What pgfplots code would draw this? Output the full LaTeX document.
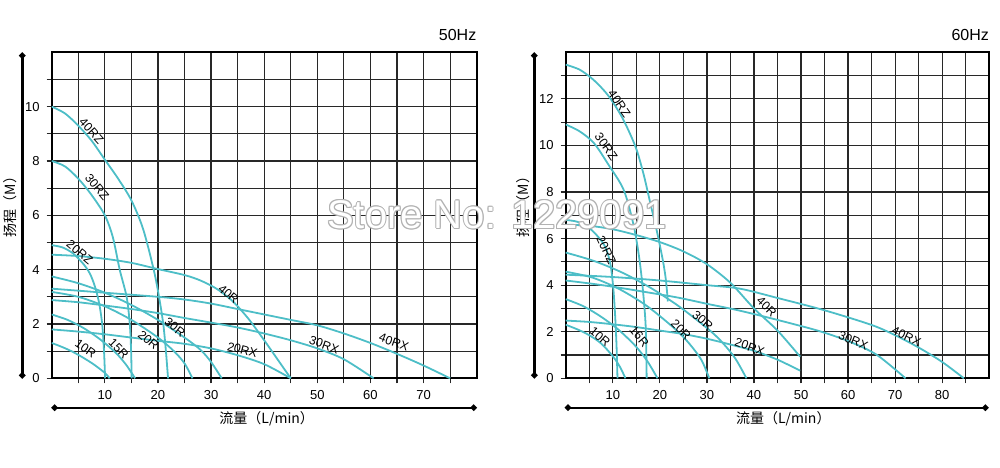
\documentclass[border=0pt]{standalone}
\usepackage{pgfplots}
\pgfplotsset{compat=1.18}
\usepackage{fontspec}
\setmainfont{Liberation Sans}
\newfontfamily\cjk{Noto Sans CJK SC}
\usetikzlibrary{arrows.meta}
\definecolor{pumpline}{RGB}{77,190,199}
\definecolor{gridcol}{RGB}{40,40,40}

\pgfplotsset{pumpchart/.style={
  scale only axis, height=163pt, anchor=south west,
  xmin=0, ymin=0,
  axis line style={line width=1pt, black},
  grid=both,
  major grid style={line width=0.6pt, gridcol},
  minor grid style={line width=0.6pt, gridcol},
  tick style={line width=0.6pt, gridcol},
  tick align=outside, major tick length=2.5pt, minor tick length=2.5pt,
  xtick pos=bottom, ytick pos=left,
  tick label style={font=\fontsize{6.5}{7}\selectfont},
  /pgf/number format/assume math mode=true,
},
pump/.style={draw=pumpline, line width=0.9pt, smooth, tension=0.5, mark=none}}
\newcommand{\clab}[4]{\node[rotate=#3, font=\fontsize{6.1}{6.5}\selectfont, inner sep=0pt] at (axis cs:#1,#2) {#4};}

\begin{document}
\begin{tikzpicture}
\path[use as bounding box] (0,0) rectangle (500pt,233.5pt);

% ---- 50Hz
\begin{axis}[pumpchart, width=212.5pt, at={(25.85pt,44.35pt)},
  xmax=80, ymax=12,
  xtick={10,20,...,70}, minor xtick={5,15,...,75},
  ytick={0,2,...,10}, minor ytick={1,3,...,11}]
  % 40RZ
  \addplot[pump] coordinates {(0,10)(2.5,9.75)(5,9.3)(7.5,8.75)(10,8.05)(12.5,7.35)(15,6.55)(17.2,5.5)(19.2,4)(20.2,3)(21,2)(21.5,1)(21.9,0)};
  % 30RZ
  \addplot[pump] coordinates {(0,8)(2.5,7.8)(5,7.35)(7.5,6.75)(10,6.0)(11.5,5.2)(12.8,4.0)(14.1,3.0)(14.7,2.0)(14.95,1.0)(15.05,0)};
  % 20RZ
  \addplot[pump] coordinates {(0,4.9)(2,4.82)(4,4.6)(6,4.2)(7.2,3.85)(8.1,3.4)(8.9,2.8)(9.5,2.0)(9.85,1.0)(10.05,0)};
  % 40R
  \addplot[pump] coordinates {(0,4.55)(5,4.5)(10,4.4)(15,4.25)(20,4.02)(25,3.8)(28,3.6)(31,3.3)(34,2.85)(37,2.2)(40,1.4)(42.5,0.7)(45,0)};
  % 30R
  \addplot[pump] coordinates {(0,3.75)(5,3.5)(10,3.15)(15,2.7)(20,2.15)(25,1.5)(28,1.05)(30,0.6)(32,0)};
  % 20R
  \addplot[pump] coordinates {(0,3.18)(5,3.0)(10,2.65)(15,2.15)(20,1.5)(23,1.0)(25,0.55)(26.5,0)};
  % 40RX
  \addplot[pump] coordinates {(0,3.3)(10,3.15)(20,3.0)(25,2.9)(30,2.75)(35,2.55)(40,2.35)(45,2.15)(50,1.95)(55,1.65)(60,1.3)(65,0.9)(70,0.47)(75,0)};
  % 30RX
  \addplot[pump] coordinates {(0,2.88)(5,2.8)(10,2.68)(15,2.55)(20,2.4)(25,2.22)(30,2.05)(35,1.87)(40,1.65)(45,1.4)(50,1.1)(55,0.7)(60.6,0)};
  % 20RX
  \addplot[pump] coordinates {(0,1.8)(5,1.72)(10,1.62)(15,1.5)(20,1.38)(25,1.27)(30,1.1)(35,0.85)(40,0.52)(45,0)};
  % 15R
  \addplot[pump] coordinates {(0,2.35)(3,2.15)(6,1.85)(9,1.45)(12,0.95)(14,0.5)(15.7,0)};
  % 10R
  \addplot[pump] coordinates {(0,1.3)(2,1.15)(4,0.97)(6,0.75)(8,0.5)(10,0.2)(10.9,0)};

  \clab{7.5}{9.1}{-48}{40RZ}
  \clab{8.55}{7.03}{-50}{30RZ}
  \clab{5.3}{4.64}{-40}{20RZ}
  \clab{33.3}{3.1}{-40}{40R}
  \clab{23.2}{1.88}{-38}{30R}
  \clab{18.2}{1.41}{-40}{20R}
  \clab{12.6}{1.1}{-45}{15R}
  \clab{6.4}{1.08}{-35}{10R}
  \clab{35.9}{1.04}{-15}{20RX}
  \clab{51.3}{1.23}{-20}{30RX}
  \clab{64.4}{1.33}{-20}{40RX}
\end{axis}

% ---- 60Hz
\begin{axis}[pumpchart, width=211.8pt, at={(282.85pt,44.35pt)},
  xmax=90, ymax=14,
  xtick={10,20,...,80}, minor xtick={5,15,...,85},
  ytick={0,2,...,12}, minor ytick={1,3,...,13}]
  % 40RZ
  \addplot[pump] coordinates {(0,13.47)(3,13.25)(6,12.8)(9,12.15)(12,11.2)(14.8,9.96)(16.5,8.8)(18,7.5)(19.5,6.2)(20.7,5)(21.3,4.2)(21.7,3.3)};
  % 30RZ
  \addplot[pump] coordinates {(0,10.9)(3,10.6)(6,10.1)(9,9.2)(12.3,8.1)(14.4,6.6)(15.6,5.2)(16.4,3.8)(17,2.2)(17.2,0)};
  % 20RZ
  \addplot[pump] coordinates {(0,6.8)(2.5,6.72)(5,6.45)(7,6.05)(8.5,5.6)(9.5,4.9)(10.1,3.9)(10.5,2.7)(10.8,1.4)(11,0)};
  % 40R
  \addplot[pump] coordinates {(0,6.6)(5,6.55)(10,6.4)(15,6.15)(20,5.85)(25,5.45)(30,4.9)(35,4.1)(40,3.0)(45,2.05)(49.8,0.93)};
  % 30R
  \addplot[pump] coordinates {(0,5.4)(6,5.04)(12,4.54)(18,3.89)(24,3.1)(30,2.16)(33,1.6)(36,0.86)(38.4,0)};
  % 20R
  \addplot[pump] coordinates {(0,4.58)(5.75,4.32)(11.5,3.82)(17.3,3.1)(23,2.16)(26,1.55)(28.8,0.8)(30.5,0)};
  % 16R
  \addplot[pump] coordinates {(0,3.4)(3.7,3.1)(7.4,2.66)(11.2,2.09)(14.9,1.37)(17.4,0.72)(19.5,0)};
  % 10R
  \addplot[pump] coordinates {(0,2.3)(2.5,2.1)(5,1.85)(7.5,1.5)(10,0.95)(11.5,0.5)(12.7,0)};
  % 20RX
  \addplot[pump] coordinates {(0,2.48)(5,2.42)(10,2.32)(15,2.2)(20,2.05)(25,1.9)(30,1.7)(35,1.45)(40,1.18)(45,0.8)(49.8,0.33)};
  % 30RX
  \addplot[pump] coordinates {(0,4.2)(6,4.05)(12,3.87)(18,3.67)(24,3.46)(30,3.2)(36,2.95)(42,2.66)(48,2.35)(54,2.02)(60,1.6)(66,1.02)(72.2,0)};
  % 40RX
  \addplot[pump] coordinates {(0,4.45)(10,4.35)(20,4.2)(30,4.0)(37,3.85)(45,3.45)(55,2.92)(65,2.29)(70,1.85)(75,1.32)(80,0.7)(84.6,0)};

  \clab{11.4}{11.8}{-55}{40RZ}
  \clab{8.6}{9.95}{-55}{30RZ}
  \clab{8.6}{5.5}{-65}{20RZ}
  \clab{7.3}{1.79}{-40}{10R}
  \clab{15.65}{1.79}{-50}{16R}
  \clab{24.5}{2.08}{-45}{20R}
  \clab{29.1}{2.48}{-40}{30R}
  \clab{39.1}{1.36}{-20}{20RX}
  \clab{42.7}{3.08}{-45}{40R}
  \clab{61.1}{1.62}{-22}{30RX}
  \clab{72.4}{1.79}{-25}{40RX}
\end{axis}

% titles
\node[anchor=east, font=\fontsize{8}{9}\selectfont, inner sep=0pt] at (238.35pt,216pt) {50Hz};
\node[anchor=east, font=\fontsize{8}{9}\selectfont, inner sep=0pt] at (494.65pt,216pt) {60Hz};

% decorative axis lines with end dots
\draw[line width=1.2pt, {Circle[length=3pt]}-{Circle[length=3pt]}] (11.15pt,44.35pt) -- (11.15pt,207.2pt);
\draw[line width=1.2pt, {Circle[length=3pt]}-{Circle[length=3pt]}] (25.85pt,29.65pt) -- (238.35pt,29.65pt);
\draw[line width=1.2pt, {Circle[length=3pt]}-{Circle[length=3pt]}] (267.15pt,44.35pt) -- (267.15pt,207.2pt);
\draw[line width=1.2pt, {Circle[length=3pt]}-{Circle[length=3pt]}] (282.5pt,29.65pt) -- (494.15pt,29.65pt);

% axis titles
\node[rotate=90, font=\fontsize{7}{8}\selectfont\cjk, inner sep=0pt] at (5pt,131.75pt) {扬程（M）};
\node[rotate=90, font=\fontsize{7}{8}\selectfont\cjk, inner sep=0pt] at (261.5pt,131.75pt) {扬程（M）};
\node[font=\fontsize{7}{8}\selectfont\cjk, inner sep=0pt] at (133.35pt,24pt) {流量（L/min）};
\node[font=\fontsize{7}{8}\selectfont\cjk, inner sep=0pt] at (391.65pt,24pt) {流量（L/min）};

% watermark
\foreach \dx/\dy in {-0.5/0,0.5/0,0/-0.5,0/0.5,-0.4/-0.4,0.4/0.4,-0.4/0.4,0.4/-0.4}{
  \node[text=black!30, font=\fontsize{20}{20}\selectfont, xshift=\dx pt, yshift=\dy pt] at (248.5pt,126pt) {Store No: 1229091};
}
\node[text=white, font=\fontsize{20}{20}\selectfont] at (248.5pt,126pt) {Store No: 1229091};
\end{tikzpicture}
\end{document}
